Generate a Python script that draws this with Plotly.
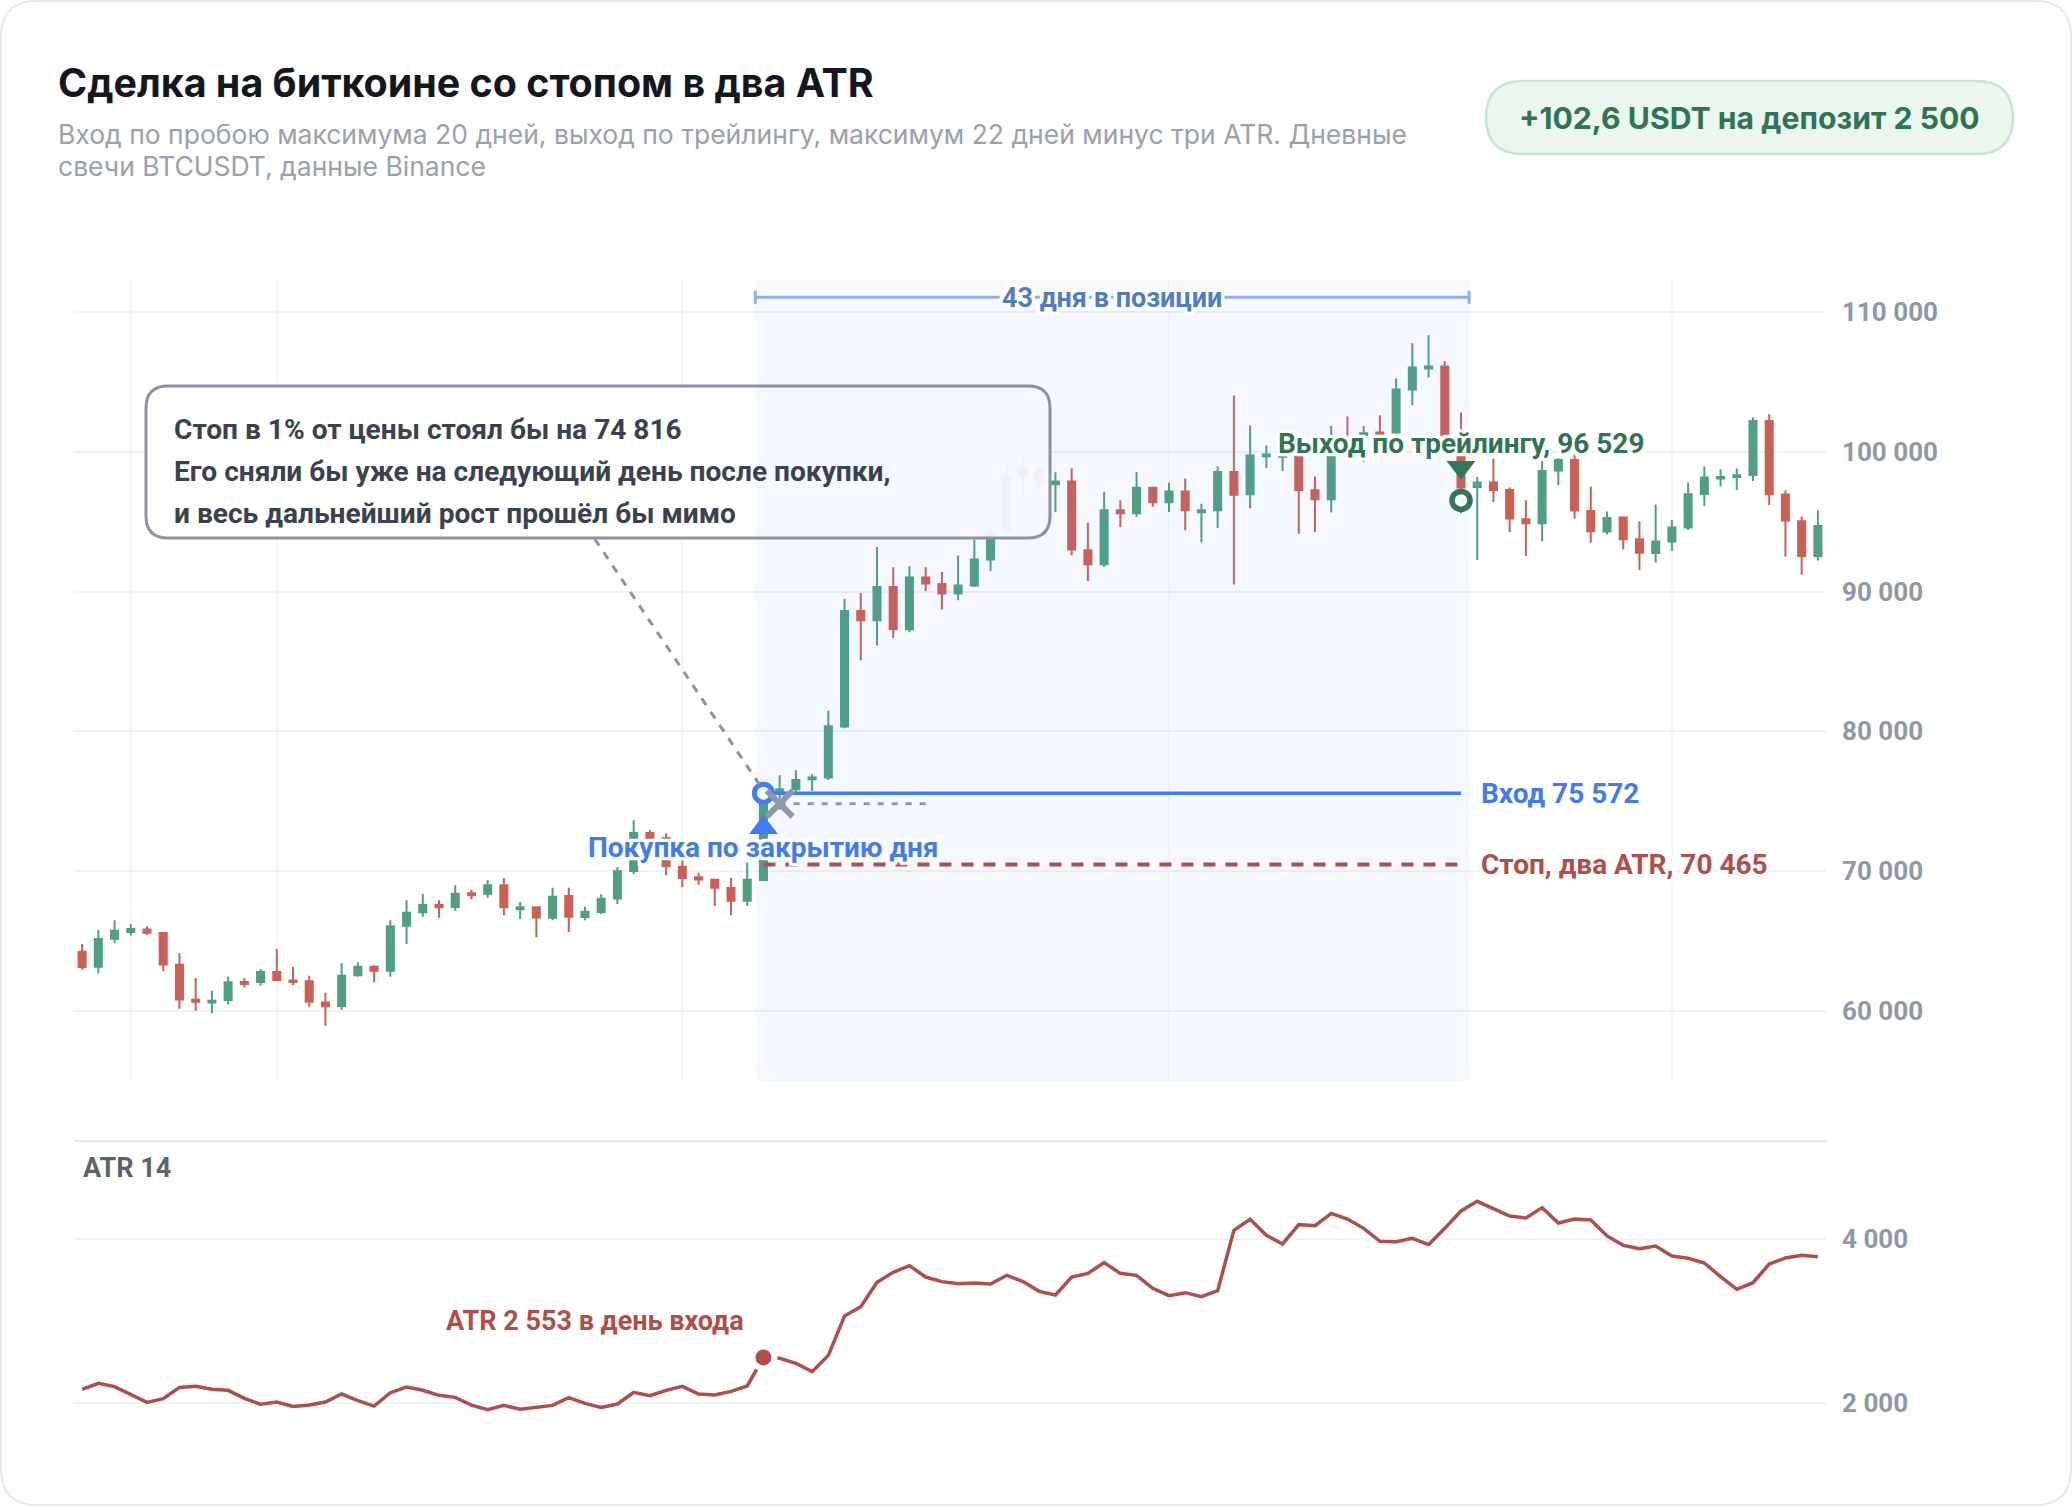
import plotly.graph_objects as go

W = 2072
H = 1506

# дневные свечи, значения
opens = [64220, 63150, 65155, 65630, 65820, 65560, 63290, 60785, 60595, 60760, 62050, 62050,
         62770, 62170, 62100, 60595, 60330, 62530, 63150, 62860, 66085, 67040, 67565, 67420,
         68400, 68375, 68975, 67255, 67400, 66660, 68210, 66705, 67065, 68040, 70000, 72720,
         72340, 70310, 69545, 69380, 68780, 67875, 69355, 75572, 75850, 76565, 76685, 80335,
         88615, 87950, 90335, 87305, 91005, 90550, 89860, 90430, 92295, 94320, 98310, 98855,
         97690, 97880, 92960, 91960, 95825, 95610, 97425, 96400, 97165, 95685, 95825, 98570,
         96970, 99690, 99650, 100200, 97255, 96610, 100790, 101195, 101385, 101385, 104465, 105970,
         106110, 100200, 97495, 97805, 97280, 95180, 94890, 98665, 99425, 95775, 94295, 95300,
         93745, 92770, 93580, 94580, 96990, 98090, 98210, 98355, 102220, 96945, 95035, 92555]
highs = [64770, 65800, 66470, 66205, 66040, 65585, 64105, 62340, 61430, 62430, 62315, 62960,
         64440, 63150, 62505, 61290, 63390, 63460, 63245, 66470, 67900, 68375, 67900, 68975,
         68640, 69355, 69475, 67780, 67445, 68805, 68805, 67445, 68330, 70285, 73630, 72935,
         72700, 70835, 69880, 69380, 69520, 70600, 76000, 76850, 77210, 76920, 81480, 89475,
         89905, 93200, 91745, 91815, 91745, 91410, 92580, 93725, 94800, 98975, 99575, 98855,
         98545, 98835, 94920, 97140, 96540, 98570, 97425, 97785, 98095, 96280, 98975, 104035,
         101885, 100455, 100500, 100800, 98235, 101860, 102530, 101860, 102625, 105250, 107780, 108355,
         106515, 102815, 98210, 99520, 97445, 96540, 99425, 99545, 99835, 97520, 95725, 95345,
         95010, 96230, 95130, 97805, 98950, 98760, 98805, 102460, 102700, 97255, 95370, 95825]
lows = [62935, 62670, 64820, 65390, 65415, 62840, 60140, 59975, 59810, 60450, 61670, 61790,
        62100, 61835, 60285, 58925, 60070, 62430, 62030, 62430, 64770, 66730, 66660, 67160,
        67970, 68090, 66825, 66560, 65250, 66490, 65630, 66470, 66920, 67635, 69785, 72150,
        69715, 68855, 69020, 67495, 66850, 67495, 69285, 74400, 75610, 75730, 76515, 80215,
        85085, 86135, 86685, 87090, 90050, 88715, 89380, 90335, 91460, 94085, 97115, 97185,
        95705, 92605, 90765, 91770, 94630, 95350, 96065, 95705, 94395, 93535, 94560, 90505,
        95965, 98855, 98640, 94150, 94270, 95655, 99355, 99285, 100790, 101330, 103340, 105325,
        100000, 95600, 92265, 96420, 94270, 92555, 93580, 97635, 95225, 93505, 94105, 93030,
        91550, 92075, 92910, 94415, 96135, 97520, 97280, 97925, 96205, 92505, 91215, 92220]
closes = [63125, 65130, 65730, 65850, 65585, 63315, 60810, 60640, 60715, 62030, 61910, 62770,
          62195, 62050, 60640, 60310, 62505, 63150, 62860, 66040, 67015, 67565, 67400, 68375,
          68260, 68975, 67400, 67400, 66680, 68160, 66730, 67090, 68020, 69975, 72720, 72340,
          70360, 69500, 69400, 68805, 67875, 69380, 75572, 75850, 76515, 76685, 80360, 88615,
          87950, 90335, 87330, 91005, 90575, 89860, 90430, 92295, 94250, 98260, 98855, 97665,
          97880, 93010, 91960, 95825, 95610, 97425, 96400, 97165, 95825, 95825, 98570, 96925,
          99740, 99810, 100000, 97280, 96610, 99950, 100070, 101335, 101240, 104465, 106040, 106110,
          100200, 97450, 97805, 97280, 95225, 94890, 98640, 99425, 95800, 94320, 95275, 93745,
          92790, 93580, 94580, 96970, 98160, 98210, 98330, 102220, 96970, 95085, 92555, 94700]
atr_values = [2163, 2236, 2196, 2102, 2004, 2049, 2187, 2200, 2163, 2151, 2053, 1980,
              2008, 1955, 1971, 2008, 2106, 2024, 1959, 2122, 2191, 2151, 2090, 2065,
              1971, 1914, 1967, 1919, 1943, 1967, 2061, 1992, 1943, 1984, 2126, 2086,
              2151, 2200, 2106, 2094, 2138, 2204, 2553, 2542, 2481, 2379, 2578, 3059,
              3173, 3470, 3593, 3674, 3535, 3479, 3454, 3462, 3450, 3556, 3479, 3360,
              3316, 3535, 3580, 3711, 3580, 3556, 3397, 3307, 3344, 3295, 3369, 4106,
              4240, 4045, 3939, 4175, 4163, 4313, 4244, 4130, 3971, 3967, 4008, 3931,
              4130, 4342, 4460, 4370, 4281, 4256, 4383, 4195, 4244, 4232, 4037, 3922,
              3882, 3914, 3792, 3764, 3707, 3540, 3385, 3466, 3694, 3768, 3800, 3784]
day_index = list(range(len(opens)))

entry_day = 42
exit_day = 85
entry_price = 75572
exit_price = 96529
atr_stop = 70465
tight_stop = 74816
tight_stop_day = 43
tight_stop_end = 52
entry_atr = 2553

price_ticks = [60000, 70000, 80000, 90000, 100000, 110000]
price_tick_labels = ["60 000", "70 000", "80 000", "90 000", "100 000", "110 000"]
atr_ticks = [2000, 4000]
atr_tick_labels = ["2 000", "4 000"]
month_grid = [3, 12, 37, 67, 98]

GREEN = "#50a080"
RED = "#cd5f55"
BLUE = "#3f7bf6"
DARK_GREEN = "#2f7552"
DARK_RED = "#b24d47"
GRAY = "#9098a8"
GRID = "#f1f1f6"

# белая обводка текста: сплошной контур из теней
HALO = ", ".join(f"{dx}px {dy}px 1px #fff" for dx in (-3, -2, 0, 2, 3) for dy in (-3, -2, 0, 2, 3))


def px_x(x):
    return x / W


def px_y(y):
    return 1 - y / H


def rounded(x0, y0, x1, y1, r):
    # прямоугольник со скруглением в координатах paper
    kx = r / W
    ky = r / H
    a, b, c, d = px_x(x0), px_x(x1), px_y(y0), px_y(y1)
    return (f"M {a + kx} {c} L {b - kx} {c} Q {b} {c} {b} {c - ky} L {b} {d + ky} Q {b} {d} {b - kx} {d} "
            f"L {a + kx} {d} Q {a} {d} {a} {d + ky} L {a} {c - ky} Q {a} {c} {a + kx} {c} Z")


fig = go.Figure()

fig.add_trace(go.Candlestick(
    x=day_index, open=opens, high=highs, low=lows, close=closes,
    increasing=dict(line=dict(color=GREEN, width=2), fillcolor=GREEN),
    decreasing=dict(line=dict(color=RED, width=2), fillcolor=RED),
    whiskerwidth=0, xaxis="x", yaxis="y", hoverinfo="skip",
))

# линии входа, стопа и стопа в 1%
fig.add_trace(go.Scatter(x=[entry_day, exit_day], y=[entry_price, entry_price], mode="lines",
                         line=dict(color=BLUE, width=3.5), xaxis="x", yaxis="y"))
fig.add_trace(go.Scatter(x=[entry_day, exit_day], y=[atr_stop, atr_stop], mode="lines",
                         line=dict(color=DARK_RED, width=4, dash="12px 10px"), xaxis="x", yaxis="y"))
fig.add_trace(go.Scatter(x=[tight_stop_day, tight_stop_end], y=[tight_stop, tight_stop], mode="lines",
                         line=dict(color=GRAY, width=3, dash="6px 8px"), xaxis="x", yaxis="y"))

# маркеры
fig.add_trace(go.Scatter(x=[entry_day], y=[73100], mode="markers",
                         marker=dict(symbol="triangle-up", size=25, color=BLUE), xaxis="x", yaxis="y"))
fig.add_trace(go.Scatter(x=[entry_day], y=[entry_price], mode="markers",
                         marker=dict(symbol="circle", size=18, color="#ffffff", line=dict(color=BLUE, width=5)),
                         xaxis="x", yaxis="y"))
fig.add_trace(go.Scatter(x=[tight_stop_day], y=[tight_stop], mode="markers",
                         marker=dict(symbol="x-thin", size=26, line=dict(color=GRAY, width=6)),
                         xaxis="x", yaxis="y"))
fig.add_trace(go.Scatter(x=[exit_day], y=[98900], mode="markers",
                         marker=dict(symbol="triangle-down", size=25, color=DARK_GREEN), xaxis="x", yaxis="y"))
fig.add_trace(go.Scatter(x=[exit_day], y=[exit_price], mode="markers",
                         marker=dict(symbol="circle", size=18, color="#ffffff", line=dict(color=DARK_GREEN, width=5.5)),
                         xaxis="x", yaxis="y"))

# ATR
fig.add_trace(go.Scatter(x=day_index, y=atr_values, mode="lines",
                         line=dict(color="#ffffff", width=7), xaxis="x2", yaxis="y2"))
fig.add_trace(go.Scatter(x=day_index, y=atr_values, mode="lines",
                         line=dict(color=DARK_RED, width=3.5), xaxis="x2", yaxis="y2"))
fig.add_trace(go.Scatter(x=[entry_day], y=[entry_atr], mode="markers",
                         marker=dict(size=22, color=DARK_RED, line=dict(color="#ffffff", width=6)),
                         xaxis="x2", yaxis="y2"))

shapes = [
    # карточка
    dict(type="path", xref="paper", yref="paper", layer="below", path=rounded(1, 1, W - 1, H - 1, 36),
         fillcolor="#ffffff", line=dict(color="#e8e8ee", width=2)),
    # плашка с результатом
    dict(type="path", xref="paper", yref="paper", layer="below", path=rounded(1486, 81, 2013, 154, 37),
         fillcolor="#ebf6ef", line=dict(color="#c6e5d2", width=2.5)),
    # выноска
    dict(type="line", xref="x", yref="y", x0=31.6, y0=93765, x1=41.75, y1=76200,
         line=dict(color="#8c93a5", width=3, dash="8px 8px")),
    dict(type="path", xref="paper", yref="paper", path=rounded(146, 386, 1050, 538, 22),
         fillcolor="rgba(255,255,255,0.95)", line=dict(color="#8c93a5", width=3)),
    # период в позиции, ложится поверх выноски
    dict(type="rect", xref="x", yref="y domain", x0=entry_day - 0.5, x1=exit_day + 0.5, y0=0, y1=1,
         fillcolor="rgba(96,140,255,0.058)", line=dict(width=0)),
    dict(type="line", xref="x", yref="y", x0=entry_day - 0.5, x1=exit_day + 0.5, y0=111070, y1=111070,
         line=dict(color="#8fb0ea", width=3)),
    dict(type="line", xref="x", yref="y", x0=entry_day - 0.5, x1=entry_day - 0.5, y0=110600, y1=111540,
         line=dict(color="#8fb0ea", width=3)),
    dict(type="line", xref="x", yref="y", x0=exit_day + 0.5, x1=exit_day + 0.5, y0=110600, y1=111540,
         line=dict(color="#8fb0ea", width=3)),
    # разделитель панели ATR
    dict(type="line", xref="paper", yref="paper", x0=px_x(74), x1=px_x(1826), y0=px_y(1141), y1=px_y(1141),
         line=dict(color="#e8e8ee", width=2), layer="below"),
]


def label(text, x, y, color, size=28, xanchor="center", xref="x", yref="y", family="Roboto", halo=True, weight=700):
    font = dict(family=family, size=size, color=color, weight=weight)
    if halo:
        font["shadow"] = HALO
    return dict(text=text, x=x, y=y, xref=xref, yref=yref, xanchor=xanchor, yanchor="middle",
                showarrow=False, font=font)


annotations = [
    label("Сделка на биткоине со стопом в два ATR", px_x(56), px_y(83), "#15171f", size=39.4,
          xanchor="left", xref="paper", yref="paper", family="Inter", halo=False),
    label("Вход по пробою максимума 20 дней, выход по трейлингу, максимум 22 дней минус три ATR. Дневные",
          px_x(56), px_y(134), "#9aa0ae", size=26.5, xanchor="left", xref="paper", yref="paper",
          family="Inter", halo=False, weight=400),
    label("свечи BTCUSDT, данные Binance", px_x(56), px_y(166), "#9aa0ae", size=26.5, xanchor="left",
          xref="paper", yref="paper", family="Inter", halo=False, weight=400),
    label("+102,6 USDT на депозит 2 500", px_x(1749.5), px_y(118), DARK_GREEN, size=30.2, xref="paper",
          yref="paper", family="Inter", halo=False),
    label("Стоп в 1% от цены стоял бы на 74 816", px_x(172), px_y(430), "#3a4152", size=28.1, xanchor="left",
          xref="paper", yref="paper", halo=False),
    label("Его сняли бы уже на следующий день после покупки,", px_x(172), px_y(472), "#3a4152", size=28.1,
          xanchor="left", xref="paper", yref="paper", halo=False),
    label("и весь дальнейший рост прошёл бы мимо", px_x(172), px_y(514), "#3a4152", size=28.1, xanchor="left",
          xref="paper", yref="paper", halo=False),
    label("43 дня в позиции", 63.5, 111000, "#4f7cc4", size=27),
    label("Покупка по закрытию дня", entry_day, 71650, BLUE),
    label("Выход по трейлингу, 96 529", exit_day, 100630, DARK_GREEN),
    label("Вход 75 572", 86.1, entry_price, BLUE, xanchor="left"),
    label("Стоп, два ATR, 70 465", 86.1, atr_stop, DARK_RED, xanchor="left"),
    label("ATR 14", px_x(80.5), px_y(1168), "#5b6373", size=27, xanchor="left", xref="paper", yref="paper", halo=False),
    label("ATR 2 553 в день входа", 40.9, 2998, DARK_RED, size=27, xanchor="right", xref="x2", yref="y2"),
]

fig.update_layout(
    width=W, height=H, margin=dict(l=0, r=0, t=0, b=0),
    paper_bgcolor="#ffffff", plot_bgcolor="rgba(0,0,0,0)",
    showlegend=False, boxgap=0.38, hovermode=False,
    shapes=shapes, annotations=annotations,
    xaxis=dict(domain=[px_x(74), px_x(1826)], range=[-0.5, 107.5], anchor="y",
               rangeslider=dict(visible=False), tickvals=month_grid, showticklabels=False,
               showgrid=True, gridcolor="#f6f6fa", gridwidth=2, zeroline=False, ticks=""),
    yaxis=dict(domain=[px_y(1081), px_y(280)], range=[54968, 112305], anchor="x", side="right",
               tickvals=price_ticks, ticktext=price_tick_labels, ticks="", ticklabelstandoff=15,
               tickfont=dict(family="Roboto", size=26, color=GRAY, weight=700),
               showgrid=True, gridcolor=GRID, gridwidth=2, zeroline=False),
    xaxis2=dict(domain=[px_x(74), px_x(1826)], range=[-0.5, 107.5], anchor="y2", visible=False),
    yaxis2=dict(domain=[px_y(1445), px_y(1141)], range=[1483, 5197], anchor="x2", side="right",
                tickvals=atr_ticks, ticktext=atr_tick_labels, ticks="", ticklabelstandoff=15,
                tickfont=dict(family="Roboto", size=26, color=GRAY, weight=700),
                showgrid=True, gridcolor=GRID, gridwidth=2, zeroline=False),
)

fig.write_html("out.html", config=dict(displayModeBar=False), post_script="document.body.style.margin='0';")
